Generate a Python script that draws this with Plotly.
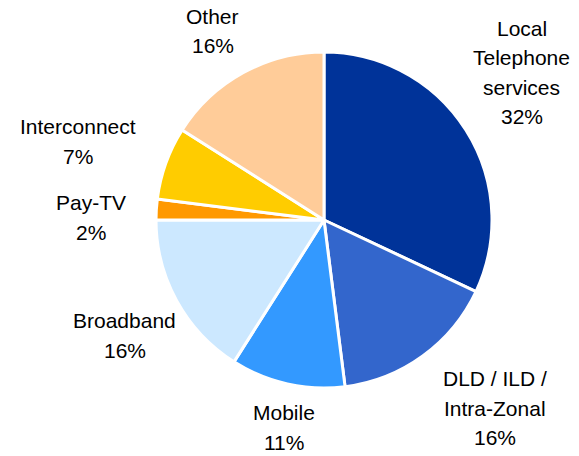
import math
import plotly.graph_objects as go

# Revenue mix by service line (share of total, %)
categories = [
    "Local\nTelephone\nservices",
    "DLD / ILD /\nIntra-Zonal",
    "Mobile",
    "Broadband",
    "Pay-TV",
    "Interconnect",
    "Other",
]
shares = [32, 16, 11, 16, 2, 7, 16]
colors = ["#003399", "#3366CC", "#3399FF", "#CCE8FF", "#FF9900", "#FFCC00", "#FFCC99"]

# Canvas and pie geometry (pixels)
W, H = 579, 456
CX, CY, R = 324, 220, 168
FONT_SIZE = 21
LINE_GAP = 29.5
LABEL_GAP = 8

# Small hand adjustments so neighbouring labels don't crowd each other
label_nudge = {
    "Local\nTelephone\nservices": (-13, -14),
    "DLD / ILD /\nIntra-Zonal": (29, -8),
    "Mobile": (6, 1),
    "Broadband": (7, 2),
    "Pay-TV": (-21, 11),
    "Interconnect": (-20, 3),
    "Other": (-8, -1),
}

# Approximate Arial advance widths (per 1000 em) for label width estimates
ARIAL = {
    " ": 278, "%": 889, "/": 278, "-": 333,
    "A": 667, "B": 667, "D": 722, "I": 278, "L": 556, "M": 833, "O": 778,
    "P": 667, "T": 611, "V": 667, "Z": 611,
    "a": 556, "b": 556, "c": 500, "d": 556, "e": 556, "h": 556, "i": 222,
    "l": 222, "n": 556, "o": 556, "p": 556, "r": 333, "s": 500, "t": 278,
    "v": 500, "y": 500,
}


def text_width(s):
    return sum(ARIAL.get(ch, 556) for ch in s) / 1000 * FONT_SIZE


fig = go.Figure(
    go.Pie(
        labels=[c.replace("\n", " ") for c in categories],
        values=shares,
        sort=False,
        direction="clockwise",
        rotation=0,
        marker=dict(colors=colors, line=dict(color="white", width=3)),
        textinfo="none",
        showlegend=False,
        domain=dict(
            x=[(CX - R) / W, (CX + R) / W],
            y=[(H - CY - R) / H, (H - CY + R) / H],
        ),
    )
)

# Outside labels: each block sits just beyond the rim along its slice's mid-angle
total = sum(shares)
cum = 0
annotations = []
for name, val in zip(categories, shares):
    mid = (cum + val / 2) / total * 2 * math.pi
    cum += val
    ux, uy = math.sin(mid), -math.cos(mid)
    lines = name.split("\n") + [f"{round(val / total * 100)}%"]
    bw = max(text_width(s) for s in lines)
    bh = len(lines) * LINE_GAP
    reach = R + LABEL_GAP + abs(ux) * bw / 2 + abs(uy) * bh / 2
    nx, ny = label_nudge.get(name, (0, 0))
    bx = CX + ux * reach + nx
    by = CY + uy * reach + ny
    n = len(lines)
    for i, s in enumerate(lines):
        ly = by + (i - (n - 1) / 2) * LINE_GAP
        annotations.append(
            dict(
                x=bx / W,
                y=1 - ly / H,
                xref="paper",
                yref="paper",
                text=s,
                showarrow=False,
                xanchor="center",
                yanchor="middle",
                font=dict(family="Liberation Sans, Arial, sans-serif", size=FONT_SIZE, color="#000000"),
            )
        )

fig.update_layout(
    width=W,
    height=H,
    margin=dict(l=0, r=0, t=0, b=0),
    paper_bgcolor="white",
    plot_bgcolor="white",
    annotations=annotations,
)

fig.write_html("out.html")
